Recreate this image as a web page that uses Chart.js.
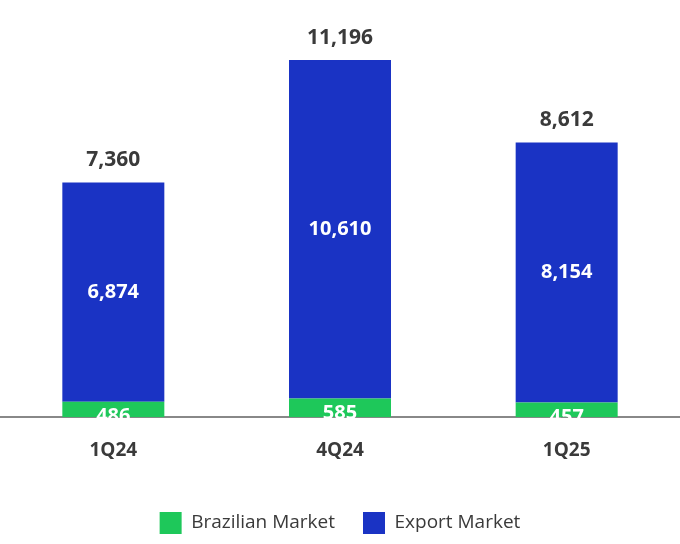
<!DOCTYPE html>
<html><head><meta charset="utf-8">
<script src="https://cdn.jsdelivr.net/npm/chart.js@4"></script>
<style>html,body{margin:0;padding:0;background:#fff}#w{width:680px;height:544px}</style>
</head><body><div id="w"><canvas id="c"></canvas></div>
<script>
const categories = ["1Q24", "4Q24", "1Q25"];
const brazilian = [486, 585, 457];
const exportMkt = [6874, 10610, 8154];
const totals = [7360, 11196, 8612];
const fmt = v => v.toLocaleString('en-US');
const FONT = "Open Sans";
const labelPlugin = {
  id: 'lbl',
  afterDatasetsDraw(chart) {
    const ctx = chart.ctx;
    ctx.save();
    ctx.textAlign = 'center';
    ctx.textBaseline = 'middle';
    chart.data.datasets.forEach((ds, di) => {
      chart.getDatasetMeta(di).data.forEach((bar, i) => {
        ctx.fillStyle = '#fff';
        ctx.font = `bold 20px ${FONT}`;
        const y = di === 0 ? bar.y + 15 : (bar.y + bar.base) / 2;
        ctx.fillText(fmt(ds.data[i]), bar.x, y);
      });
    });
    const top = chart.getDatasetMeta(1).data;
    ctx.fillStyle = '#3a3a3a';
    ctx.font = `bold 21px ${FONT}`;
    top.forEach((bar, i) => ctx.fillText(fmt(totals[i]), bar.x, bar.y - 22));
    ctx.restore();
  }
};
new Chart(document.getElementById('c'), {
  type: 'bar',
  data: {
    labels: categories,
    datasets: [
      { label: 'Brazilian Market', data: brazilian, backgroundColor: '#1ec85a' },
      { label: 'Export Market', data: exportMkt, backgroundColor: '#1a33c4' }
    ]
  },
  options: {
    responsive: true, maintainAspectRatio: false, animation: false,
    layout: { padding: { top: 0, left: 0, right: 0, bottom: 0 } },
    datasets: { bar: { barPercentage: 0.45, categoryPercentage: 1 } },
    scales: {
      x: { stacked: true, grid: { display: false, drawTicks: false },
           border: { color: '#888', width: 2 },
           ticks: { color: '#3a3a3a', padding: 22, font: { family: FONT, size: 19, weight: 'bold' } } },
      y: { stacked: true, display: false, min: 0, max: 13077 }
    },
    plugins: {
      tooltip: { enabled: false },
      legend: { position: 'bottom',
        labels: { boxWidth: 22, boxHeight: 22, padding: 28, color: '#3a3a3a',
                  font: { family: FONT, size: 19 } } }
    }
  },
  plugins: [labelPlugin]
});
</script></body></html>
